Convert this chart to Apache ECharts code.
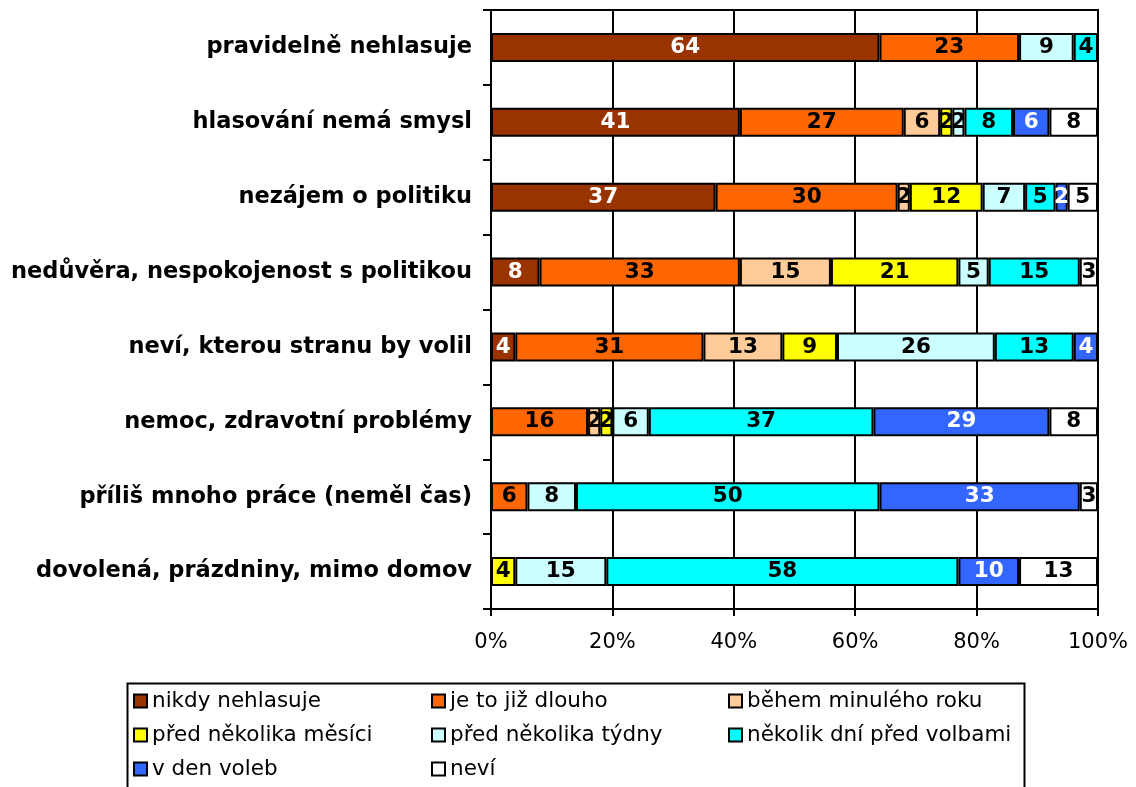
<!DOCTYPE html>
<html>
<head>
    <meta charset="utf-8">
    <title>Důvody nehlasování</title>
    <script src="https://cdn.jsdelivr.net/npm/echarts@6/dist/echarts.min.js"></script>
    <style>
        html, body { margin: 0; padding: 0; background: #fff; }
    </style>
</head>
<body>
    <div id="main" style="width: 1136px;height:787px;"></div>
    <script type="text/javascript">
        // kategorie (shora dolů)
        var categories = [
            'pravidelně nehlasuje',
            'hlasování nemá smysl',
            'nezájem o politiku',
            'nedůvěra, nespokojenost s politikou',
            'neví, kterou stranu by volil',
            'nemoc, zdravotní problémy',
            'příliš mnoho práce (neměl čas)',
            'dovolená, prázdniny, mimo domov'
        ];
        var seriesNames = [
            'nikdy nehlasuje', 'je to již dlouho', 'během minulého roku',
            'před několika měsíci', 'před několika týdny', 'několik dní před volbami',
            'v den voleb', 'neví'
        ];
        var nikdy      = [64, 41, 37, 8, 4, 0, 0, 0];
        var dlouho     = [23, 27, 30, 33, 31, 16, 6, 0];
        var minulyRok  = [0, 6, 2, 15, 13, 2, 0, 0];
        var mesice     = [0, 2, 12, 21, 9, 2, 0, 4];
        var tydny      = [9, 2, 7, 5, 26, 6, 8, 15];
        var dny        = [4, 8, 5, 15, 13, 37, 50, 58];
        var denVoleb   = [0, 6, 2, 0, 4, 29, 33, 10];
        var nevi       = [0, 8, 5, 3, 0, 8, 3, 13];
        var xTicks = ['0%', '20%', '40%', '60%', '80%', '100%'];

        var colors = ['#993300', '#FF6600', '#FFCC99', '#FFFF00', '#CCFFFF', '#00FFFF', '#3366FF', '#FFFFFF'];
        var labelColors = ['#fff', '#000', '#000', '#000', '#000', '#000', '#fff', '#000'];
        var values = [nikdy, dlouho, minulyRok, mesice, tydny, dny, denVoleb, nevi];
        var font = '"DejaVu Sans", Verdana, sans-serif';

        var series = values.map(function (arr, i) {
            return {
                name: seriesNames[i],
                type: 'bar',
                stack: 'total',
                barWidth: 29,
                data: arr.map(function (v) { return v === 0 ? null : v; }),
                itemStyle: { color: colors[i], borderColor: '#000', borderWidth: 2 },
                label: {
                    show: true,
                    position: 'inside',
                    color: labelColors[i],
                    fontFamily: font,
                    fontWeight: 'bold',
                    fontSize: 21.5
                },
                emphasis: { disabled: true }
            };
        });

        // legenda: 3 sloupce x 3 řádky, každá položka zvlášť
        var legendLeft = [133, 431, 728];
        var legendRowY = [701, 735, 769];
        var legends = seriesNames.map(function (name, i) {
            return {
                left: legendLeft[i % 3],
                top: legendRowY[Math.floor(i / 3)] - 12,
                padding: 0,
                itemWidth: 13,
                itemHeight: 13,
                icon: 'rect',
                itemStyle: { borderColor: '#000', borderWidth: 2 },
                textStyle: { fontFamily: font, fontSize: 21.5, color: '#000', lineHeight: 24 },
                data: [name]
            };
        });

        var myChart = echarts.init(document.getElementById('main'));
        myChart.setOption({
            animation: false,
            grid: {
                left: 491, right: 38, top: 10, bottom: 178,
                show: true, borderColor: '#000', borderWidth: 2
            },
            legend: legends,
            graphic: [{
                type: 'rect',
                left: 125, top: 681,
                shape: { width: 897, height: 120 },
                style: { fill: 'none', stroke: '#000', lineWidth: 2 },
                silent: true
            }],
            xAxis: {
                type: 'value',
                min: 0, max: 100, interval: 20,
                axisLine: { show: true, lineStyle: { color: '#000', width: 2 } },
                axisTick: { show: true, length: 7, lineStyle: { color: '#000', width: 2 } },
                splitLine: { show: true, lineStyle: { color: '#000', width: 2 } },
                axisLabel: {
                    margin: 23,
                    fontFamily: font, fontSize: 21, color: '#000',
                    formatter: function (v) { return xTicks[v / 20]; }
                }
            },
            yAxis: {
                type: 'category',
                inverse: true,
                data: categories,
                axisLine: { show: true, lineStyle: { color: '#000', width: 2 } },
                axisTick: { show: true, length: 8, lineStyle: { color: '#000', width: 2 } },
                axisLabel: {
                    margin: 19,
                    fontFamily: font, fontWeight: 'bold', fontSize: 22.5, color: '#000'
                }
            },
            series: series
        });
    </script>
</body>
</html>
